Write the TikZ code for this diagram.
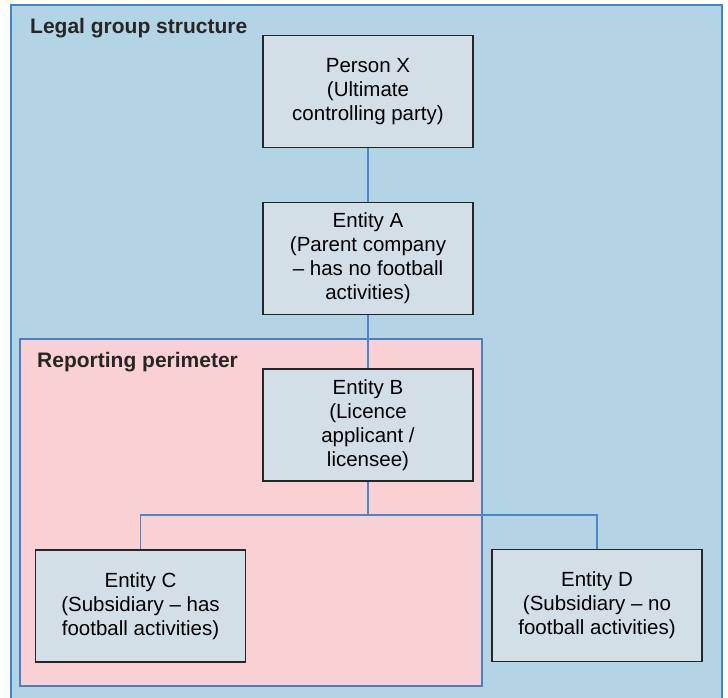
\documentclass[tikz,border=0pt]{standalone}
\usepackage{fontspec}
\setmainfont{Liberation Sans}
\usepackage{tikz}

\definecolor{groupblue}{HTML}{B3D4E5}
\definecolor{groupedge}{HTML}{3F86CF}
\definecolor{perimpink}{HTML}{F9D0D3}
\definecolor{perimedge}{HTML}{4C7FC2}
\definecolor{entityfill}{HTML}{D2DFE6}
\definecolor{linkblue}{HTML}{4A86CC}

\begin{document}
\begin{tikzpicture}[x=1pt,y=-1pt,
		entity/.style={draw=black!85, line width=1.3pt, fill=entityfill, minimum width=210pt, minimum height=112pt, align=center, font=\fontsize{20.5}{24}\selectfont, inner sep=0pt},
		link/.style={draw=linkblue, line width=1.3pt},
		heading/.style={anchor=west, font=\fontsize{21}{24}\selectfont\bfseries, text=black!85, inner sep=0pt}]
		\useasboundingbox (0,0) rectangle (728,697);
		\clip (0,0) rectangle (728,697);
		% the two frames
		\draw[groupedge, line width=1.6pt, fill=groupblue] (11,5) rectangle (722,702);
		\draw[perimedge, line width=1.3pt, fill=perimpink] (20,339) rectangle (482,686);
		\node[heading] (legal) at (30,28) {Legal group structure};
		\node[heading] (perim) at (37,362) {Reporting perimeter};
		% entities
		\node[entity] (px) at (368,91.5) {Person X\\(Ultimate\\controlling party)};
		\node[entity] (ea) at (368,258.5) {Entity A\\(Parent company\\-- has no football\\activities)};
		\node[entity] (eb) at (368,425) {Entity B\\(Licence\\applicant /\\licensee)};
		\node[entity] (ec) at (140.5,606) {Entity C\\(Subsidiary -- has\\football activities)};
		\node[entity] (ed) at (597,605.5) {Entity D\\(Subsidiary -- no\\football activities)};
		\coordinate (split) at (368,515);
		% ownership lines
		\draw[link] (px) -- (ea);
		\draw[link] (ea) -- (eb);
		\draw[link] (eb) -- (split);
		\draw[link] (split) -| (ec);
		\draw[link] (split) -| (ed);
\end{tikzpicture}
\end{document}
